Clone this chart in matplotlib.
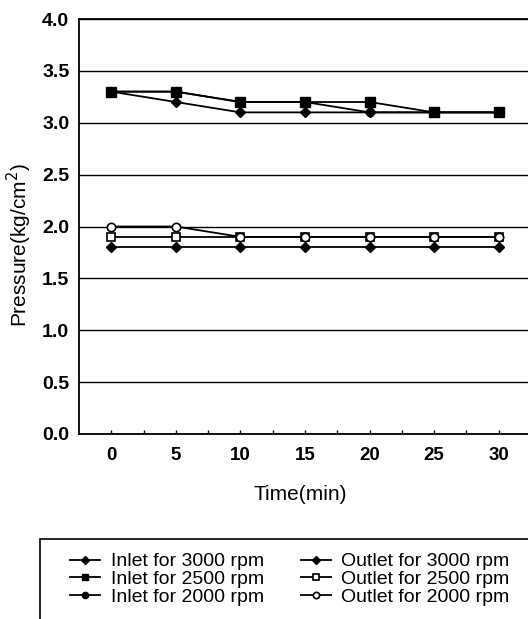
import matplotlib
matplotlib.use("Agg")
import matplotlib.pyplot as plt
from matplotlib.patches import Rectangle
from matplotlib.ticker import FixedLocator

plt.rcParams['font.family'] = ['Liberation Sans', 'DejaVu Sans']

time_labels = ['0', '5', '10', '15', '20', '25', '30']
inlet_3000 = [3.3, 3.2, 3.1, 3.1, 3.1, 3.1, 3.1]
inlet_2500 = [3.3, 3.3, 3.2, 3.2, 3.2, 3.1, 3.1]
inlet_2000 = [3.3, 3.3, 3.2, 3.2, 3.1, 3.1, 3.1]
outlet_3000 = [1.8, 1.8, 1.8, 1.8, 1.8, 1.8, 1.8]
outlet_2500 = [1.9, 1.9, 1.9, 1.9, 1.9, 1.9, 1.9]
outlet_2000 = [2.0, 2.0, 1.9, 1.9, 1.9, 1.9, 1.9]
y_ticks = [0.0, 0.5, 1.0, 1.5, 2.0, 2.5, 3.0, 3.5, 4.0]

W, H = 528, 619
fig = plt.figure(figsize=(W/100, H/100), dpi=100)
ax = fig.add_axes([79/W, 1-434/H, (531-79)/W, (434-19)/H])

x = list(range(len(time_labels)))
lw = 1.3
series = [
    ('Inlet for 3000 rpm', inlet_3000, dict(marker='D', ms=5, mfc='black', mec='black')),
    ('Inlet for 2500 rpm', inlet_2500, dict(marker='s', ms=7, mfc='black', mec='black')),
    ('Inlet for 2000 rpm', inlet_2000, dict(marker='o', ms=6, mfc='black', mec='black')),
    ('Outlet for 3000 rpm', outlet_3000, dict(marker='D', ms=5, mfc='black', mec='black')),
    ('Outlet for 2500 rpm', outlet_2500, dict(marker='s', ms=6, mfc='white', mec='black', mew=1.2)),
    ('Outlet for 2000 rpm', outlet_2000, dict(marker='o', ms=6, mfc='white', mec='black', mew=1.2)),
]
order = [2, 0, 1, 3, 4, 5]
handles = {}
for i in order:
    lab, vals, kw = series[i]
    h, = ax.plot(x, vals, color='black', lw=lw, label=lab, zorder=3, **kw)
    handles[i] = h

ax.set_xlim(-0.5, 6.5)
ax.set_ylim(0, 4.0)
ax.set_xticks(x)
ax.set_xticklabels(time_labels)
ax.xaxis.set_minor_locator(FixedLocator([i + 0.5 for i in range(6)]))
ax.tick_params(axis='x', which='both', direction='in', length=3, width=1)
ax.tick_params(axis='x', which='major', pad=9, labelsize=13.5)
ax.set_yticks(y_ticks)
ax.set_yticklabels([f'{v:.1f}' for v in y_ticks])
ax.tick_params(axis='y', length=0, pad=7, labelsize=14)
for lbl in ax.get_xticklabels() + ax.get_yticklabels():
    lbl.set_fontweight('bold')

ax.grid(axis='y', color='black', lw=1)
ax.set_axisbelow(True)
ax.spines['right'].set_visible(False)
for s in ['left', 'bottom', 'top']:
    ax.spines[s].set_linewidth(1.3)

ax.set_ylabel('Pressure(kg/cm$^2$)', fontsize=15)
ax.yaxis.set_label_coords(-0.10, 0.455)
ax.set_xlabel('Time(min)', fontsize=15)
ax.xaxis.set_label_coords((300-79)/(531-79), -(485-434)/(434-19))

# legend frame
rect = Rectangle((40/W, -0.05), 0.99, 1-539/H + 0.05, transform=fig.transFigure,
                 fill=False, edgecolor='black', lw=1.2)
fig.add_artist(rect)
leg_handles = [handles[i] for i in [0, 1, 2, 3, 4, 5]]
leg_labels = [series[i][0] for i in [0, 1, 2, 3, 4, 5]]
leg = fig.legend(leg_handles, leg_labels, ncol=2, loc='upper left',
                 bbox_to_anchor=(60/W, 1-543/H), frameon=False,
                 fontsize=14, handlelength=1.55, handletextpad=0.55,
                 columnspacing=1.9, labelspacing=0.0, borderpad=0)
for h in leg.legend_handles:
    h.set_markersize(4.5)

fig.savefig('out.png', dpi=100)
